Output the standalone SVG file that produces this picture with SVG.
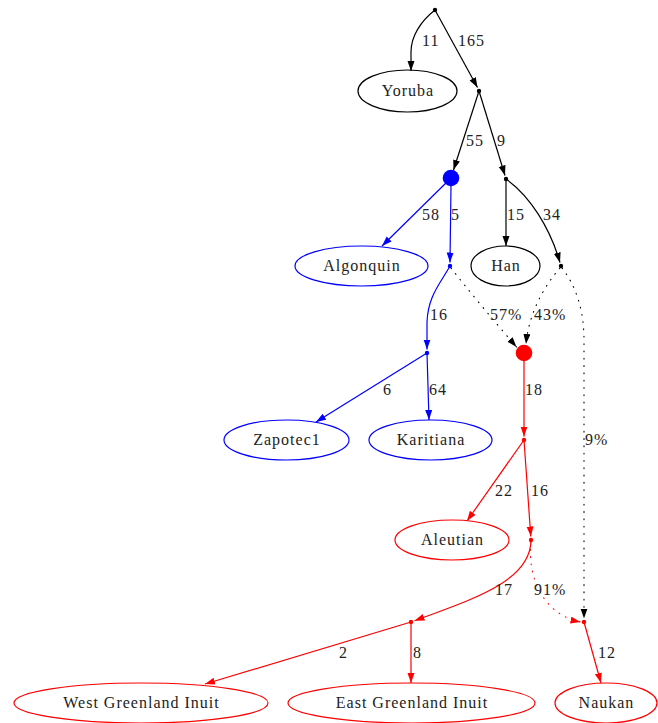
<svg xmlns="http://www.w3.org/2000/svg" width="658" height="723" viewBox="0 0 658 723">
<style>
  text { font-family: "Liberation Serif", "Times New Roman", serif; font-size: 16px; letter-spacing: 1px; fill: #222; }
  .n text { text-anchor: middle; }
  .k { stroke: #000; }
  .b { stroke: #0000ff; }
  .r { stroke: #ff0000; }
  ellipse { fill: none; stroke-width: 1.2; }
  .e path { fill: none; stroke-width: 1.2; }
  .e path.dot { stroke-width: 1.1; stroke-dasharray: 0.8 6.5; stroke-linecap: round; }
</style>
<defs>
  <marker id="ak" markerUnits="userSpaceOnUse" markerWidth="11" markerHeight="8" refX="10" refY="3.5" orient="auto"><path d="M0,0 L10,3.5 L0,7 z" fill="#000"/></marker>
  <marker id="ab" markerUnits="userSpaceOnUse" markerWidth="11" markerHeight="8" refX="10" refY="3.5" orient="auto"><path d="M0,0 L10,3.5 L0,7 z" fill="#0000ff"/></marker>
  <marker id="ar" markerUnits="userSpaceOnUse" markerWidth="11" markerHeight="8" refX="10" refY="3.5" orient="auto"><path d="M0,0 L10,3.5 L0,7 z" fill="#ff0000"/></marker>
</defs>
<rect width="658" height="723" fill="#fff"/>

<g id="edges" class="e">
  <path class="k" d="M435,10 C421,21 411,36 411,52 L411,71" marker-end="url(#ak)"/>
  <path class="k" d="M435,10 L477.5,87.5" marker-end="url(#ak)"/>
  <path class="k" d="M479,91 L453.5,170" marker-end="url(#ak)"/>
  <path class="k" d="M479,91 L505,175.5" marker-end="url(#ak)"/>
  <path class="b" d="M451,178 L382,246" marker-end="url(#ab)"/>
  <path class="b" d="M451,186 L450,262.5" marker-end="url(#ab)"/>
  <path class="k" d="M506,179 L506,246" marker-end="url(#ak)"/>
  <path class="k" d="M506,179 C530,196 550,228 560,262.5" marker-end="url(#ak)"/>
  <path class="b" d="M450,266 C440,284 428,296 427,322 L427,349.5" marker-end="url(#ab)"/>
  <path class="k dot" d="M451,268 C468,290 495,322 516.5,347" marker-end="url(#ak)"/>
  <path class="k dot" d="M560,268 C545,285 529,312 526,344" marker-end="url(#ak)"/>
  <path class="k dot" d="M562,268 C576,286 584,310 584,340 L584,618.5" marker-end="url(#ak)"/>
  <path class="b" d="M427,353 L316,422" marker-end="url(#ab)"/>
  <path class="b" d="M427,353 L429,420" marker-end="url(#ab)"/>
  <path class="r" d="M524,361 L524,436.5" marker-end="url(#ar)"/>
  <path class="r" d="M524,440 L467,521" marker-end="url(#ar)"/>
  <path class="r" d="M524,440 L530.8,536.5" marker-end="url(#ar)"/>
  <path class="r" d="M531,540 C531,582 470,600 414.5,620.8" marker-end="url(#ar)"/>
  <path class="r dot" d="M531,542 C527,580 545,615 580.5,622" marker-end="url(#ar)"/>
  <path class="r" d="M411,622 L205,684" marker-end="url(#ar)"/>
  <path class="r" d="M411,622 L411,683" marker-end="url(#ar)"/>
  <path class="r" d="M584,622 L601,683" marker-end="url(#ar)"/>
  <text x="422" y="46">11</text>
  <text x="458" y="46">165</text>
  <text x="466" y="146">55</text>
  <text x="497" y="146">9</text>
  <text x="422" y="220">58</text>
  <text x="451" y="220">5</text>
  <text x="507" y="220">15</text>
  <text x="543" y="220">34</text>
  <text x="430" y="320">16</text>
  <text x="490" y="320">57%</text>
  <text x="534" y="320">43%</text>
  <text x="585" y="445">9%</text>
  <text x="383" y="395">6</text>
  <text x="429" y="395">64</text>
  <text x="525" y="395">18</text>
  <text x="495" y="496">22</text>
  <text x="531" y="496">16</text>
  <text x="495" y="595">17</text>
  <text x="534" y="595">91%</text>
  <text x="339" y="658">2</text>
  <text x="413" y="658">8</text>
  <text x="598" y="658">12</text>
</g>

<g id="p0"><circle cx="435" cy="10" r="2.2" fill="#000"/></g>
<g id="p1"><circle cx="479" cy="91" r="2.2" fill="#000"/></g>
<g id="p2"><circle cx="506" cy="179" r="2.2" fill="#000"/></g>
<g id="p4"><circle cx="561" cy="266" r="2.2" fill="#000"/></g>
<g id="B"><circle cx="451" cy="178" r="8.3" fill="#0000ff"/></g>
<g id="p3"><circle cx="450" cy="266" r="2.2" fill="#0000ff"/></g>
<g id="p5"><circle cx="427" cy="353" r="2.2" fill="#0000ff"/></g>
<g id="R"><circle cx="524" cy="353" r="8.3" fill="#ff0000"/></g>
<g id="p6"><circle cx="524" cy="440" r="2.2" fill="#ff0000"/></g>
<g id="p7"><circle cx="531" cy="540" r="2.2" fill="#ff0000"/></g>
<g id="p8"><circle cx="411" cy="622" r="2.2" fill="#ff0000"/></g>
<g id="p9"><circle cx="584" cy="622" r="2.2" fill="#ff0000"/></g>

<g id="Yoruba" class="n"><ellipse class="k" cx="407.5" cy="91" rx="49.5" ry="21"/><text x="408" y="96">Yoruba</text></g>
<g id="Algonquin" class="n"><ellipse class="b" cx="361.5" cy="266" rx="66.5" ry="20"/><text x="362" y="271">Algonquin</text></g>
<g id="Han" class="n"><ellipse class="k" cx="505.5" cy="266" rx="34.5" ry="20"/><text x="506" y="271">Han</text></g>
<g id="Zapotec1" class="n"><ellipse class="b" cx="286.5" cy="440" rx="62.5" ry="20"/><text x="287" y="445">Zapotec1</text></g>
<g id="Karitiana" class="n"><ellipse class="b" cx="430.5" cy="440" rx="61.5" ry="20"/><text x="431" y="445">Karitiana</text></g>
<g id="Aleutian" class="n"><ellipse class="r" cx="452" cy="540" rx="57" ry="20"/><text x="452.5" y="545">Aleutian</text></g>
<g id="WestGreenlandInuit" class="n"><ellipse class="r" cx="141" cy="703" rx="127" ry="20"/><text x="141.5" y="708">West Greenland Inuit</text></g>
<g id="EastGreenlandInuit" class="n"><ellipse class="r" cx="411.5" cy="703" rx="123.5" ry="20"/><text x="412" y="708">East Greenland Inuit</text></g>
<g id="Naukan" class="n"><ellipse class="r" cx="606" cy="703" rx="51" ry="20"/><text x="606.5" y="708">Naukan</text></g>
</svg>
